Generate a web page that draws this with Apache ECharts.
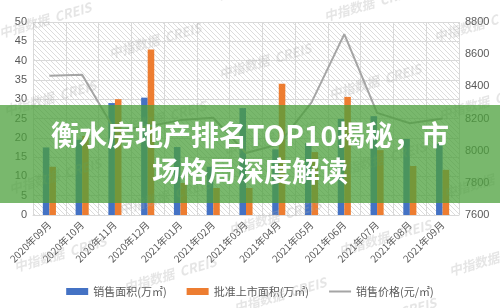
<!DOCTYPE html>
<html>
<head>
<meta charset="utf-8">
<script src="https://cdn.jsdelivr.net/npm/echarts@6/dist/echarts.min.js"></script>
<style>
html,body{margin:0;padding:0;background:#fff;}
#chart{width:500px;height:308px;}
</style>
</head>
<body>
<div id="chart"></div>
<script>
const categories = ['2020年09月','2020年10月','2020年11月','2020年12月','2021年01月','2021年02月','2021年03月','2021年04月','2021年05月','2021年06月','2021年07月','2021年08月','2021年09月'];
const salesArea = [17.5, 19.5, 29, 30.4, 17.6, 12.5, 27.7, 17, 18.6, 24.9, 25.6, 19.7, 18.5];
const approvedArea = [12.5, 20.5, 30, 42.9, 8.3, 7, 7, 34, 16.3, 30.6, 16.8, 12.7, 11.7];
const salesPrice = [8466, 8472, 8125, 8150, 8190, 8205, 7985, 8040, 8300, 8725, 8235, 8170, 8200];
const leftTicks = [0, 50, 5];
const rightTicks = [7600, 8800, 200];
const seriesNames = ['销售面积(万㎡)', '批准上市面积(万㎡)', '销售价格(元/㎡)'];
const bannerLines = ['衡水房地产排名TOP10揭秘，市', '场格局深度解读'];
const watermarkText = '中指数据  CREIS';

const hatch = document.createElement('canvas');
hatch.width = 5; hatch.height = 5;
const hc = hatch.getContext('2d');
hc.strokeStyle = '#dcdcdc';
hc.lineWidth = 1;
hc.beginPath(); hc.moveTo(-1,-1); hc.lineTo(6,6); hc.stroke();

const chart = echarts.init(document.getElementById('chart'), null, {renderer:'canvas'});

const marks = [];
for (let r = -1; r <= 3; r++) {
  for (let c = 0; c < 5; c++) {
    marks.push({
      type: 'text', z: 50,
      x: 45 + 110 * c + 5 * r, y: 20 + 20.5 * c + 78 * r,
      rotation: 0.28,
      style: {text: watermarkText, fill: 'rgba(170,170,170,0.3)', font: 'italic bold 13px "Noto Sans CJK SC"', textAlign: 'center', textVerticalAlign: 'middle'}
    });
  }
}

const textColor = '#595959';
chart.setOption({
  animation: false,
  grid: {left: 33, right: 41, top: 22, bottom: 93, show: true, borderWidth: 0, backgroundColor: {image: hatch, repeat: 'repeat'}},
  legend: {
    top: 281, left: 'center', itemWidth: 22, itemHeight: 7, itemGap: 20,
    textStyle: {fontSize: 11, color: textColor, fontFamily: '"Noto Sans CJK SC"'},
    data: [
      {name: seriesNames[0], icon: 'rect'},
      {name: seriesNames[1], icon: 'rect'},
      {name: seriesNames[2], icon: 'path://M0,0 L22,0 L22,2 L0,2 Z', itemStyle: {color: '#a5a5a5'}}
    ]
  },
  xAxis: {
    type: 'category', data: categories,
    axisLine: {lineStyle: {color: '#d9d9d9'}},
    axisTick: {show: false},
    splitLine: {show: true, lineStyle: {color: '#d9d9d9'}},
    axisLabel: {rotate: 45, fontSize: 10, color: textColor, margin: 8, interval: 0, fontFamily: '"Noto Sans CJK SC"'}
  },
  yAxis: [
    {type: 'value', min: leftTicks[0], max: leftTicks[1], interval: leftTicks[2],
     axisLine: {show: false}, axisTick: {show: false},
     splitLine: {lineStyle: {color: '#d9d9d9'}},
     axisLabel: {fontSize: 11, color: textColor, margin: 6}},
    {type: 'value', min: rightTicks[0], max: rightTicks[1], interval: rightTicks[2],
     axisLine: {show: false}, axisTick: {show: false},
     splitLine: {show: false},
     axisLabel: {fontSize: 11, color: textColor, margin: 6, formatter: function (v) { return String(v); }}}
  ],
  series: [
    {name: seriesNames[0], type: 'bar', data: salesArea, barWidth: '20%', barGap: '0%', itemStyle: {color: '#4472C4'}},
    {name: seriesNames[1], type: 'bar', data: approvedArea, barWidth: '20%', itemStyle: {color: '#ED7D31'}},
    {name: seriesNames[2], type: 'line', yAxisIndex: 1, data: salesPrice, symbol: 'none', showSymbol: false, lineStyle: {color: '#a5a5a5', width: 2}, itemStyle: {color: '#a5a5a5'}}
  ],
  graphic: marks.concat([
    {type: 'rect', z: 100, shape: {x: 0, y: 105, width: 500, height: 98}, style: {fill: 'rgba(76,160,60,0.75)'}},
    {type: 'text', z: 101, x: 250, y: 153,
     style: {text: bannerLines.join('\n'), fill: '#ffffff', font: 'bold 28px "Noto Sans CJK SC"', textAlign: 'center', textVerticalAlign: 'middle', lineHeight: 36}}
  ])
});
</script>
</body>
</html>
